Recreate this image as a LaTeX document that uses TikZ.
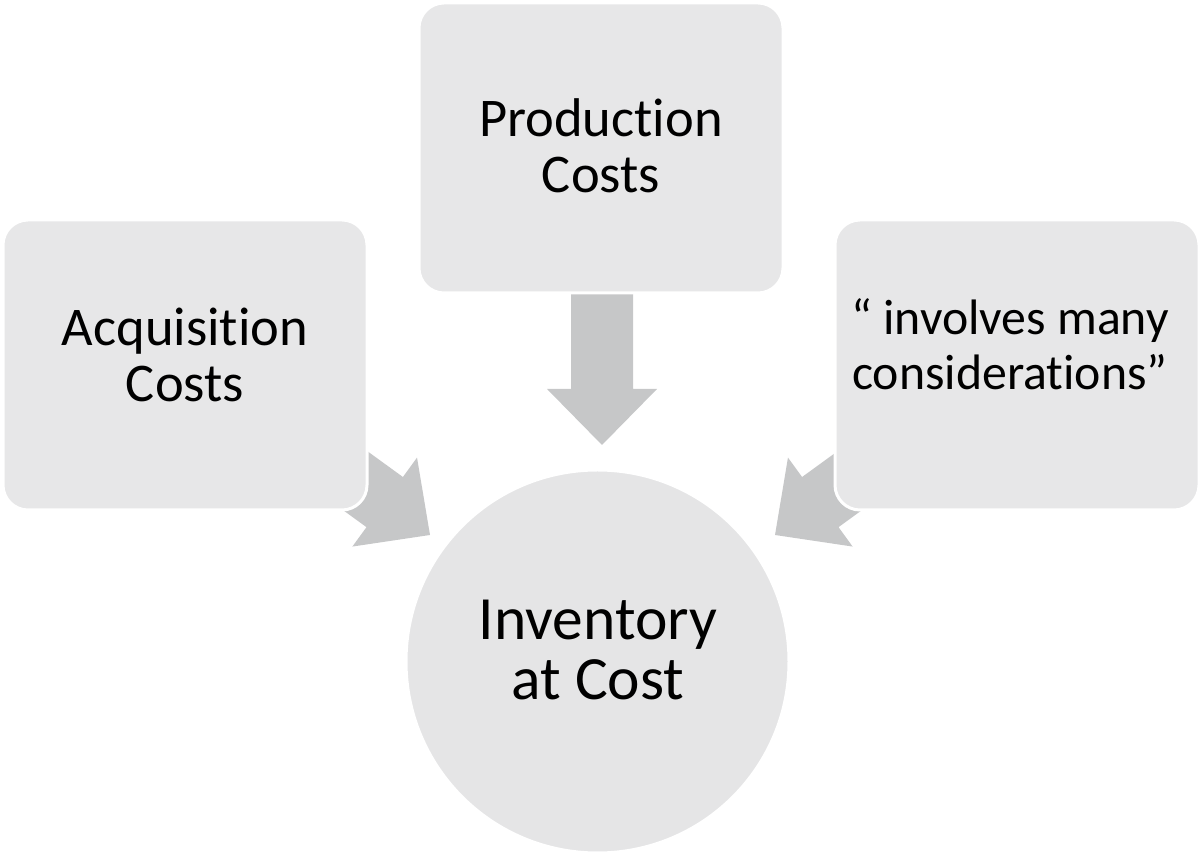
\documentclass[tikz,border=0pt]{standalone}
\usepackage{fontspec}
\setmainfont[Ligatures=NoCommon]{Carlito}
\definecolor{boxgray}{RGB}{231,231,232}
\definecolor{circgray}{RGB}{229,229,230}
\definecolor{arrgray}{RGB}{198,199,200}
\tikzset{
  x=1pt, y=1pt,
  costbox/.style={draw=white, line width=3pt, fill=boxgray, rounded corners=25pt,
    minimum width=364pt, minimum height=290pt, inner sep=0pt},
  costcirc/.style={circle, draw=white, line width=2pt, fill=circgray, minimum size=382pt, inner sep=0pt},
  boxtext/.style={align=center, anchor=base, inner sep=0pt, font=\fontsize{54.5}{56}\selectfont},
  smalltext/.style={align=center, anchor=base, inner sep=0pt, font=\fontsize{49.8}{55}\selectfont},
  circtext/.style={align=center, anchor=base, inner sep=0pt, font=\fontsize{61.5}{60}\selectfont},
  blockarrow/.style={fill=arrgray}
}
\newcommand\blkarrow[3]{% tip, angle, shaft length
  \begin{scope}[shift={(#1)}, rotate=#2]
    \fill[blockarrow] (-#3,31) -- (-56,31) -- (-56,55) -- (0,0) -- (-56,-55) -- (-56,-31) -- (-#3,-31) -- cycle;
  \end{scope}}
\begin{document}
\begin{tikzpicture}
\useasboundingbox (0,0) rectangle (1200,859);
% arrows (behind boxes)
\coordinate (tipP) at (602,414);
\coordinate (tipA) at (430,324);
\coordinate (tipR) at (775,324);
\blkarrow{tipP}{-90}{190}
\blkarrow{tipA}{-36}{170}
\blkarrow{tipR}{216}{170}
% boxes
\node[costbox] (prod) at (601,711) {};
\node[costbox] (acq) at (185,494) {};
\node[costbox] (inv) at (1017,494) {};
\node[costcirc] (cost) at (597.5,197.5) {};
% texts (base anchor = last line baseline)
\node[boxtext] (prodt) at (601,666) {Production\\Costs};
\node[boxtext] (acqt) at (185,457) {Acquisition\\Costs};
\node[smalltext] (invt) at (1010,469) {“ involves many\\considerations”};
\node[circtext] (costt) at (598,159) {Inventory\\at Cost};
\end{tikzpicture}
\end{document}
